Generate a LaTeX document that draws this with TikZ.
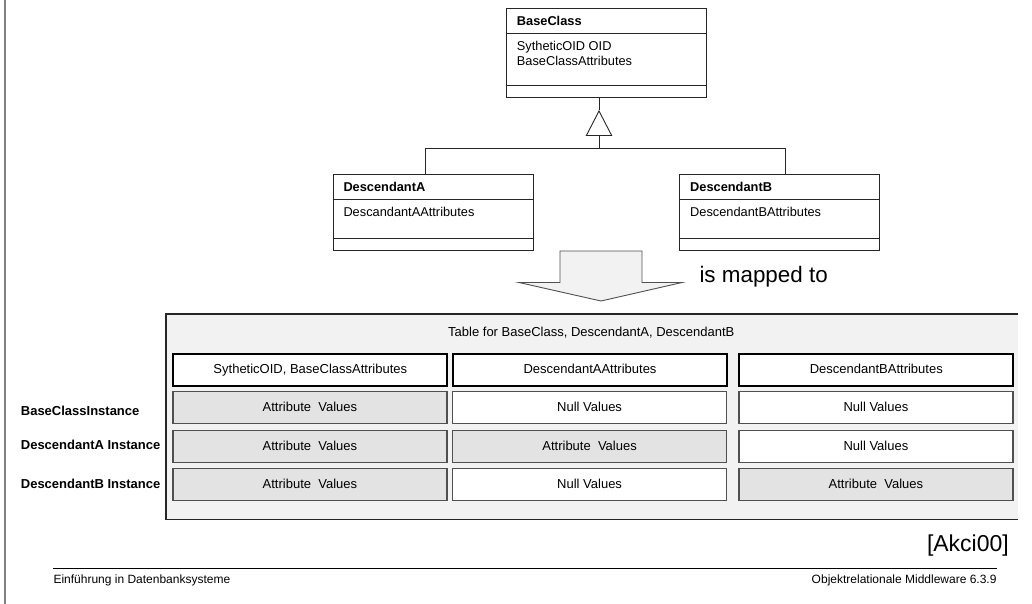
\documentclass[tikz,border=0pt]{standalone}
\usepackage{fontspec}
\setmainfont{Liberation Sans}
\usetikzlibrary{arrows.meta}
\definecolor{tablebg}{HTML}{F2F2F2}
\definecolor{attrfill}{HTML}{E3E3E3}
\definecolor{framegray}{HTML}{505050}
\begin{document}
\begin{tikzpicture}
[
    x=1pt, y=-1pt,
    every node/.style={inner sep=0pt},
    umlclass/.style={draw=black!85, line width=0.9pt, minimum width=200pt, anchor=north west},
    clsname/.style={font=\fontsize{12.8}{15}\selectfont\bfseries, anchor=base west},
    clsattr/.style={font=\fontsize{12.8}{15}\selectfont, anchor=base west},
    cell/.style={draw=framegray, line width=1.2pt, minimum width=274pt, minimum height=32pt, anchor=north west,
        text height=9.4pt, text depth=2.6pt, font=\fontsize{13}{15}\selectfont},
    headcell/.style={cell, draw=black, line width=2pt, fill=white},
    attrcell/.style={cell, fill=attrfill, node contents={Attribute\ \ Values}},
    nullcell/.style={cell, fill=white, node contents={Null Values}},
    rowlabel/.style={font=\fontsize{13}{15}\selectfont\bfseries, anchor=base west},
    footer/.style={font=\fontsize{12}{14}\selectfont},
    link/.style={draw=black!85, line width=0.9pt},
]
\useasboundingbox (0,0) rectangle (1032,604);
\draw[gray, line width=2pt] (5,0) -- (5,604);

\node[umlclass, minimum height=89pt] (base) at (505.7,8) {};
\node[umlclass, minimum height=76pt] (descA) at (332.7,174) {};
\node[umlclass, minimum height=76pt] (descB) at (678.7,174) {};
\foreach \n in {base, descA, descB}
{
    \draw[link] ([yshift=-25.5pt]\n.north west) -- ([yshift=-25.5pt]\n.north east);
    \draw[link] ([yshift=12.5pt]\n.south west) -- ([yshift=12.5pt]\n.south east);
}
\node[clsname] (baseName) at ([xshift=11pt, yshift=-17.3pt]base.north west) {BaseClass};
\node[clsattr] (baseOid) at ([xshift=11pt, yshift=-42.3pt]base.north west) {SytheticOID OID};
\node[clsattr] (baseAttr) at ([xshift=11pt, yshift=-57.6pt]base.north west) {BaseClassAttributes};
\node[clsname] (descAName) at ([xshift=10.6pt, yshift=-17.3pt]descA.north west) {DescendantA};
\node[clsattr] (descAAttr) at ([xshift=10.6pt, yshift=-42.3pt]descA.north west) {DescandantAAttributes};
\node[clsname] (descBName) at ([xshift=11.3pt, yshift=-17.3pt]descB.north west) {DescendantB};
\node[clsattr] (descBAttr) at ([xshift=11.3pt, yshift=-42.3pt]descB.north west) {DescendantBAttributes};

\coordinate (tip) at (599,110);
\coordinate (junction) at (599,148.3);
\coordinate (busA) at (425.7,148.3);
\coordinate (busB) at (785.7,148.3);
\draw[link] (base.south -| tip) -- (tip);
\draw[link, -{Triangle[open, length=26pt, width=26.6pt]}] (junction) -- (tip);
\draw[link] (descA.north -| busA) -- (busA) -- (busB) -- (descB.north -| busB);

\draw[fill=tablebg, draw=framegray, line width=0.9pt]
    (560,251) -- ++(82,0) -- ++(0,31.5) -- ++(40,0) -- ++(-81,18.5) -- ++(-82,-18.5) -- ++(41,0) -- cycle;
\node[font=\fontsize{22.4}{26}\selectfont, anchor=base west] (mapped) at (699.3,282.7) {is mapped to};

\node[fill=tablebg, minimum width=852pt, minimum height=205pt, anchor=north west] (table) at (166,314) {};
\draw[black!85, line width=1.1pt] (table.north east) -- (table.north west) -- (table.south west) -- (table.south east);
\node[font=\fontsize{13}{15}\selectfont, text height=9.4pt, text depth=2.6pt] (tableTitle) at (591.3,333) {Table for BaseClass, DescendantA, DescendantB};

\foreach \x/\txt [count=\c] in {172.3/{SytheticOID, BaseClassAttributes}, 452/DescendantAAttributes, 738.3/DescendantBAttributes}
    \node[headcell] (head\c) at (\x,353) {\txt};
\foreach \y/\sa/\sb/\sc [count=\r] in {391/attrcell/nullcell/nullcell, 430/attrcell/attrcell/nullcell, 468/attrcell/nullcell/attrcell}
{
    \node[\sa, at={(172.3,\y)}, name=val\r-1];
    \node[\sb, at={(452,\y)}, name=val\r-2];
    \node[\sc, at={(738.3,\y)}, name=val\r-3];
}

\node[rowlabel] (rowBase) at (20.7,415.4) {BaseClassInstance};
\node[rowlabel] (rowA) at (20.7,449.7) {DescendantA Instance};
\node[rowlabel] (rowB) at (20.7,488.4) {DescendantB Instance};

\node[font=\fontsize{23}{27}\selectfont, anchor=base east] (cite) at (1009,551) {[Akci00]};

\coordinate (footL) at (53.3,568.3);
\coordinate (footR) at (996.7,568.3);
\draw[black, line width=1pt] (footL) -- (footR);
\node[footer, anchor=base west] (footCourse) at ([yshift=-15.3pt]footL) {Einführung in Datenbanksysteme};
\node[footer, anchor=base east] (footChapter) at ([yshift=-15.3pt]footR) {Objektrelationale Middleware 6.3.9};
\end{tikzpicture}
\end{document}
